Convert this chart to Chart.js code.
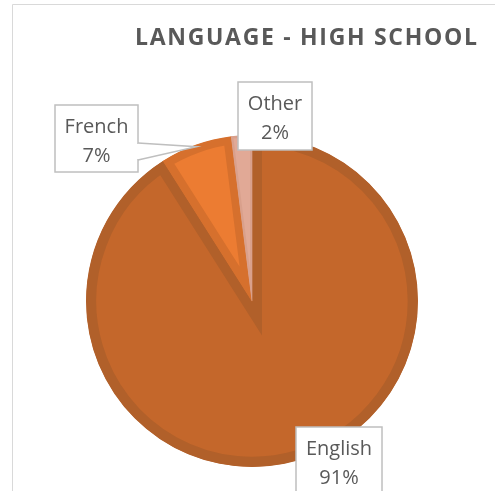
<!DOCTYPE html>
<html>
<head>
<meta charset="utf-8">
<title>Language - High School</title>
<script src="https://cdn.jsdelivr.net/npm/chart.js@4.4.0/dist/chart.umd.min.js"></script>
<style>
  html, body { margin: 0; padding: 0; background: #ffffff; }
  #wrap { width: 495px; height: 491px; position: relative; }
</style>
</head>
<body>
<div id="wrap"><canvas id="pie" width="495" height="491"></canvas></div>
<script>
// chart data
const languages = ["English", "French", "Other"];
const shares = [91, 7, 2];
const sliceColors = ["#c4672b", "#ec7c32", "#e1a996"];
const sliceBorders = ["#b1602a", "#d6702d", "#d9a08c"];

const chartTitle = "LANGUAGE - HIGH SCHOOL";
const textGrey = "#595959";

// label box placement, per slice: [left, top, width, height]
const labelBoxes = [
    [296, 427, 86, 80],
    [55, 105, 83, 67],
    [238, 82, 74, 68]
];

const total = shares.reduce((a, b) => a + b, 0);

// frame, title and callout boxes
const decor = {
    id: "decor",
    beforeDraw(chart) {
        const ctx = chart.ctx;
        ctx.save();
        ctx.strokeStyle = "#d9d9d9";
        ctx.lineWidth = 1;
        ctx.beginPath();
        ctx.moveTo(12.5, 500);
        ctx.lineTo(12.5, 4.5);
        ctx.lineTo(500, 4.5);
        ctx.stroke();

        ctx.fillStyle = textGrey;
        ctx.font = "bold 23px 'Open Sans'";
        ctx.letterSpacing = "1.7px";
        ctx.textAlign = "left";
        ctx.textBaseline = "alphabetic";
        ctx.fillText(chartTitle, 135, 45);
        ctx.restore();
    },
    afterDraw(chart) {
        const ctx = chart.ctx;
        const arcs = chart.getDatasetMeta(0).data;
        ctx.save();
        ctx.font = "20px 'Open Sans'";
        ctx.textAlign = "center";
        ctx.textBaseline = "alphabetic";
        arcs.forEach((arc, i) => {
            const [bx, by, bw, bh] = labelBoxes[i];
            const p = arc.getProps(["x", "y", "startAngle", "endAngle", "outerRadius"], true);
            const mid = (p.startAngle + p.endAngle) / 2;
            const tipX = p.x + Math.cos(mid) * (p.outerRadius - 2);
            const tipY = p.y + Math.sin(mid) * (p.outerRadius - 2);

            ctx.fillStyle = "#ffffff";
            ctx.strokeStyle = "#bfbfbf";
            ctx.lineWidth = 1.5;
            ctx.fillRect(bx, by, bw, bh);
            ctx.strokeRect(bx, by, bw, bh);

            // pointer when the box sits away from its slice
            const cx = Math.max(bx, Math.min(tipX, bx + bw));
            const cy = Math.max(by, Math.min(tipY, by + bh));
            if (Math.hypot(tipX - cx, tipY - cy) > 12) {
                const ex = bx + bw;
                ctx.beginPath();
                ctx.moveTo(ex, by + 38);
                ctx.lineTo(tipX, tipY);
                ctx.lineTo(ex, by + 55);
                ctx.closePath();
                ctx.fill();
                ctx.beginPath();
                ctx.moveTo(ex, by + 38);
                ctx.lineTo(tipX, tipY);
                ctx.lineTo(ex, by + 55);
                ctx.stroke();
                ctx.fillRect(ex - 1, by + 39, 2, 15);
            }

            const pct = Math.round(shares[i] / total * 100) + "%";
            ctx.fillStyle = textGrey;
            ctx.fillText(languages[i], bx + bw / 2, by + 28);
            ctx.fillText(pct, bx + bw / 2, by + 57);
        });
        ctx.restore();
    }
};

new Chart(document.getElementById("pie"), {
    type: "pie",
    data: {
        labels: languages,
        datasets: [{
            data: shares,
            backgroundColor: sliceColors,
            borderColor: sliceBorders,
            borderWidth: [10, 8, 2],
            borderAlign: "inner",
            borderJoinStyle: "miter"
        }]
    },
    options: {
        responsive: false,
        animation: false,
        layout: {
            padding: { left: 86, right: 77, top: 135, bottom: 24 }
        },
        plugins: {
            legend: { display: false },
            title: { display: false },
            tooltip: { enabled: false }
        }
    },
    plugins: [decor]
});
</script>
</body>
</html>
